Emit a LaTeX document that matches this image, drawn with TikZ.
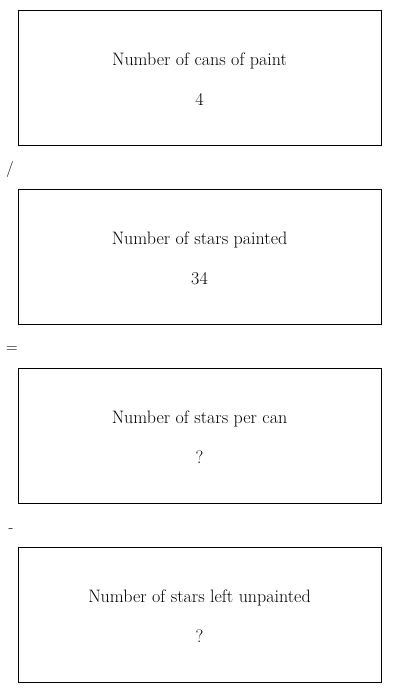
\documentclass[tikz,border=0pt]{standalone}
\usepackage{tikz}
\usetikzlibrary{positioning, calc}

\tikzset{
  qbox/.style={draw, line width=0.8pt, minimum width=363pt, minimum height=135pt, inner sep=0pt},
  qtext/.style={font=\fontsize{18}{21}\selectfont},
  opsign/.style={font=\fontsize{16}{19}\selectfont, inner sep=0pt}
}

\begin{document}
\begin{tikzpicture}[x=1pt, y=1pt]
  \useasboundingbox (0,0) rectangle (400,-693);
  % boxes
  \node[qbox] (cans) at (199.5,-77.5) {};
  \node[qbox] (stars) at (199.5,-256.5) {};
  \node[qbox] (perCan) at (199.5,-435.5) {};
  \node[qbox] (left) at (199.5,-614.5) {};
  % labels
  \node[qtext] (cansT) at ($(cans)+(0,16.5)$) {Number of cans of paint};
  \node[qtext] (cansV) at ($(cans)+(0,-22)$) {4};
  \node[qtext] (starsT) at ($(stars)+(0,16.5)$) {Number of stars painted};
  \node[qtext] (starsV) at ($(stars)+(0,-22)$) {34};
  \node[qtext] (perCanT) at ($(perCan)+(0,16.5)$) {Number of stars per can};
  \node[qtext] (perCanV) at ($(perCan)+(0,-22)$) {?};
  \node[qtext] (leftT) at ($(left)+(0,16.5)$) {Number of stars left unpainted};
  \node[qtext] (leftV) at ($(left)+(0,-22)$) {?};
  % operators
  \node[opsign] (div) at (10,-169) {/};
  \node[opsign] (eq) at (12,-350) {=};
  \node[opsign] (minus) at (11,-531) {-};
\end{tikzpicture}
\end{document}
